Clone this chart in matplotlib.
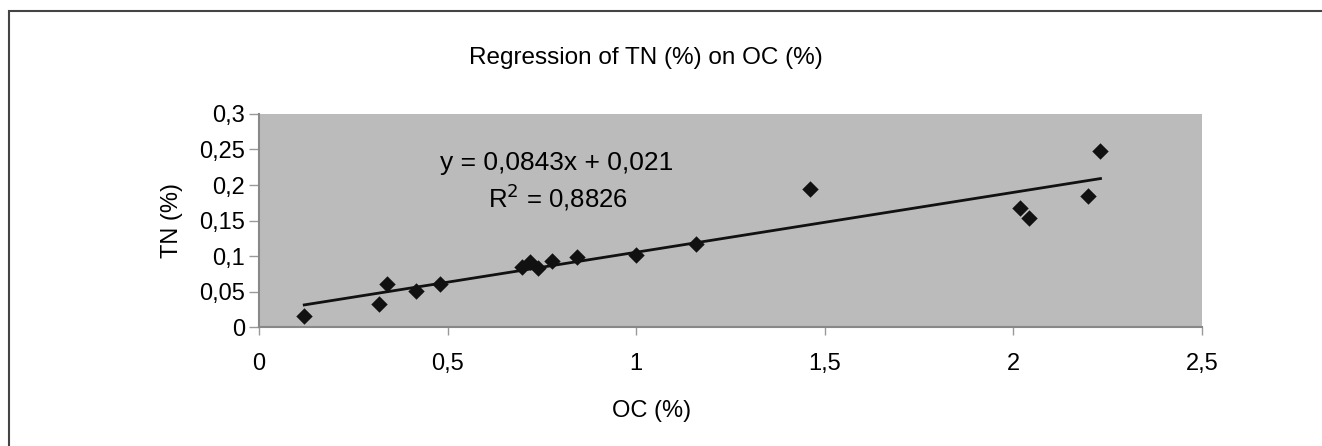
import numpy as np
import matplotlib.pyplot as plt
from matplotlib.patches import Rectangle

plt.rcParams['font.family'] = ['Liberation Sans', 'DejaVu Sans']

# values
oc = [0.12, 0.317, 0.339, 0.416, 0.48, 0.697, 0.719, 0.741, 0.776, 0.843,
      1.0, 1.159, 1.462, 2.017, 2.041, 2.198, 2.231]
tn = [0.015, 0.032, 0.061, 0.051, 0.060, 0.084, 0.091, 0.083, 0.093, 0.099,
      0.102, 0.117, 0.195, 0.168, 0.153, 0.185, 0.248]
slope = 0.0843
intercept = 0.021
r2 = 0.8826

x_ticks = [0, 0.5, 1, 1.5, 2, 2.5]
y_ticks = [0, 0.05, 0.1, 0.15, 0.2, 0.25, 0.3]


def comma(v):
    s = f"{v:g}"
    return s.replace('.', ',')


fig = plt.figure(figsize=(13.22, 4.46), dpi=100)
ax = fig.add_axes([0.1959, 0.2668, 0.7133, 0.4776])
ax.set_facecolor('#bbbbbb')

# outer frame of the chart
fig.patches.append(Rectangle((8.5 / 1322, -0.1), 1.2, 1 - 10.5 / 446 + 0.1,
                             transform=fig.transFigure, fill=False,
                             edgecolor='#444444', linewidth=1.5))

ax.scatter(oc, tn, marker='D', s=70, color='#111111', zorder=3, linewidths=0)
xs = np.array([min(oc), max(oc)])
ax.plot(xs, slope * xs + intercept, color='#111111', linewidth=2, zorder=2)

ax.set_xlim(0, 2.5)
ax.set_ylim(0, 0.3)
ax.set_xticks(x_ticks)
ax.set_yticks(y_ticks)
ax.set_xticklabels([comma(v) for v in x_ticks])
ax.set_yticklabels([comma(v) for v in y_ticks])
ax.tick_params(axis='x', length=6, width=1, color='#999999', pad=13, labelsize=17)
ax.tick_params(axis='y', length=7, width=1, color='#999999', pad=3, labelsize=17)

for side in ['top', 'right']:
    ax.spines[side].set_visible(False)
for side in ['left', 'bottom']:
    ax.spines[side].set_color('#888888')
    ax.spines[side].set_linewidth(1.5)

ax.text(0.48, 0.231, f"y = {comma(slope)}x + {comma(intercept)}", fontsize=19,
        va='center', ha='left')
ax.text(0.607, 0.183, f"R$^2$ = {comma(r2)}", fontsize=18.5,
        va='center', ha='left')

fig.text(646 / 1322, 1 - 58 / 446, "Regression of TN (%) on OC (%)",
         fontsize=17.5, ha='center', va='center')
fig.text(652 / 1322, 1 - 411 / 446, "OC (%)", fontsize=17,
         ha='center', va='center')
fig.text(172 / 1322, 1 - 220 / 446, "TN (%)", fontsize=17,
         ha='center', va='center', rotation=90)

fig.savefig('out.png', dpi=100)
